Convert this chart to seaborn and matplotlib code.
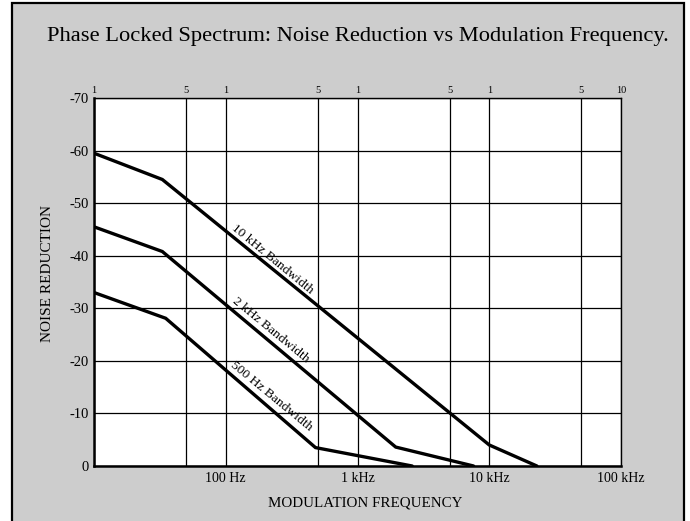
import numpy as np
import pandas as pd
import matplotlib
matplotlib.use("Agg")
import matplotlib.pyplot as plt
from matplotlib.patches import Rectangle
import seaborn as sns

# datos (frecuencia en Hz, reduccion de ruido en dB)
freq_10k = [10, 33, 10000, 23000]
noise_10k = [-59.5, -54.5, -4.0, 0.0]
freq_2k = [10, 33, 1950, 7600]
noise_2k = [-45.5, -40.8, -3.6, 0.0]
freq_500 = [10, 35, 480, 2600]
noise_500 = [-33.0, -28.1, -3.5, 0.0]

series_names = ["10 kHz Bandwidth", "2 kHz Bandwidth", "500 Hz Bandwidth"]

grid_x = [10, 50, 100, 500, 1000, 5000, 10000, 50000, 100000]
top_labels = ["1", "5", "1", "5", "1", "5", "1", "5", "10"]
bottom_labels = ["", "", "100 Hz", "", "1 kHz", "", "10 kHz", "", "100 kHz"]
y_ticks = [0, -10, -20, -30, -40, -50, -60, -70]
y_labels = ["0", "-10", "-20", "-30", "-40", "-50", "-60", "-70"]

df = pd.concat([
    pd.DataFrame({"freq": freq_10k, "noise": noise_10k, "serie": series_names[0]}),
    pd.DataFrame({"freq": freq_2k, "noise": noise_2k, "serie": series_names[1]}),
    pd.DataFrame({"freq": freq_500, "noise": noise_500, "serie": series_names[2]}),
])

sns.set_style("white")
plt.rcParams["font.family"] = ["Liberation Serif", "DejaVu Serif"]
plt.rcParams["text.color"] = "black"
plt.rcParams["axes.labelcolor"] = "black"
plt.rcParams["xtick.color"] = "black"
plt.rcParams["ytick.color"] = "black"

fig = plt.figure(figsize=(6.9, 5.21), dpi=100, facecolor="white")
# marco gris de fondo
fig.patches.append(Rectangle((12 / 690, -0.02), 672 / 690, 1.0 - 3 / 521 + 0.02,
                             transform=fig.transFigure, facecolor="#cdcdcd",
                             edgecolor="black", linewidth=1.6, zorder=-10))

ax = fig.add_axes([94 / 690, 1 - 466 / 521, (621 - 94) / 690, (466 - 98) / 521])
ax.set_facecolor("white")

for name in series_names:
    sub = df[df["serie"] == name]
    sns.lineplot(data=sub, x="freq", y="noise", sort=False, color="black",
                 linewidth=2.4, ax=ax, legend=False, solid_joinstyle="miter")

ax.set_xscale("log")
ax.set_xlim(10, 100000)
ax.set_ylim(0, -70)
ax.minorticks_off()
ax.set_xticks(grid_x)
ax.set_xticklabels(bottom_labels, fontsize=10)
ax.set_yticks(y_ticks)
ax.set_yticklabels(y_labels, fontsize=10.5)
ax.tick_params(length=0, pad=4)
ax.grid(True, color="black", linewidth=0.9)
ax.set_xlabel("MODULATION FREQUENCY", fontsize=10.8)
ax.xaxis.set_label_coords((365 - 94) / 527, -0.082)
ax.set_ylabel("NOISE REDUCTION", fontsize=11)
ax.yaxis.set_label_coords(-0.075, (466 - 274) / 368)

for side in ["left", "bottom"]:
    ax.spines[side].set_linewidth(1.8)
for side in ["top", "right"]:
    ax.spines[side].set_linewidth(1.0)
for s in ax.spines.values():
    s.set_color("black")

# eje superior con las marcas 1 / 5
ax2 = ax.twiny()
ax2.set_xscale("log")
ax2.set_xlim(10, 100000)
ax2.minorticks_off()
ax2.set_xticks(grid_x)
ax2.set_xticklabels(top_labels, fontsize=7.5)
ax2.tick_params(length=0, pad=2)
for s in ax2.spines.values():
    s.set_visible(False)

# etiquetas sobre las curvas
label_pos = [(224, -39.4), (221, -25.9), (223, -13.2)]
for name, (lx, ly) in zip(series_names, label_pos):
    ax.text(lx, ly, name, rotation=-39.5, fontsize=9.7, ha="center", va="center",
            rotation_mode="anchor")

fig.text(358 / 690, 1 - 36 / 521, "Phase Locked Spectrum: Noise Reduction vs Modulation Frequency.",
         ha="center", va="center", fontsize=16.2)

fig.savefig("out.png", dpi=100, facecolor="white")
